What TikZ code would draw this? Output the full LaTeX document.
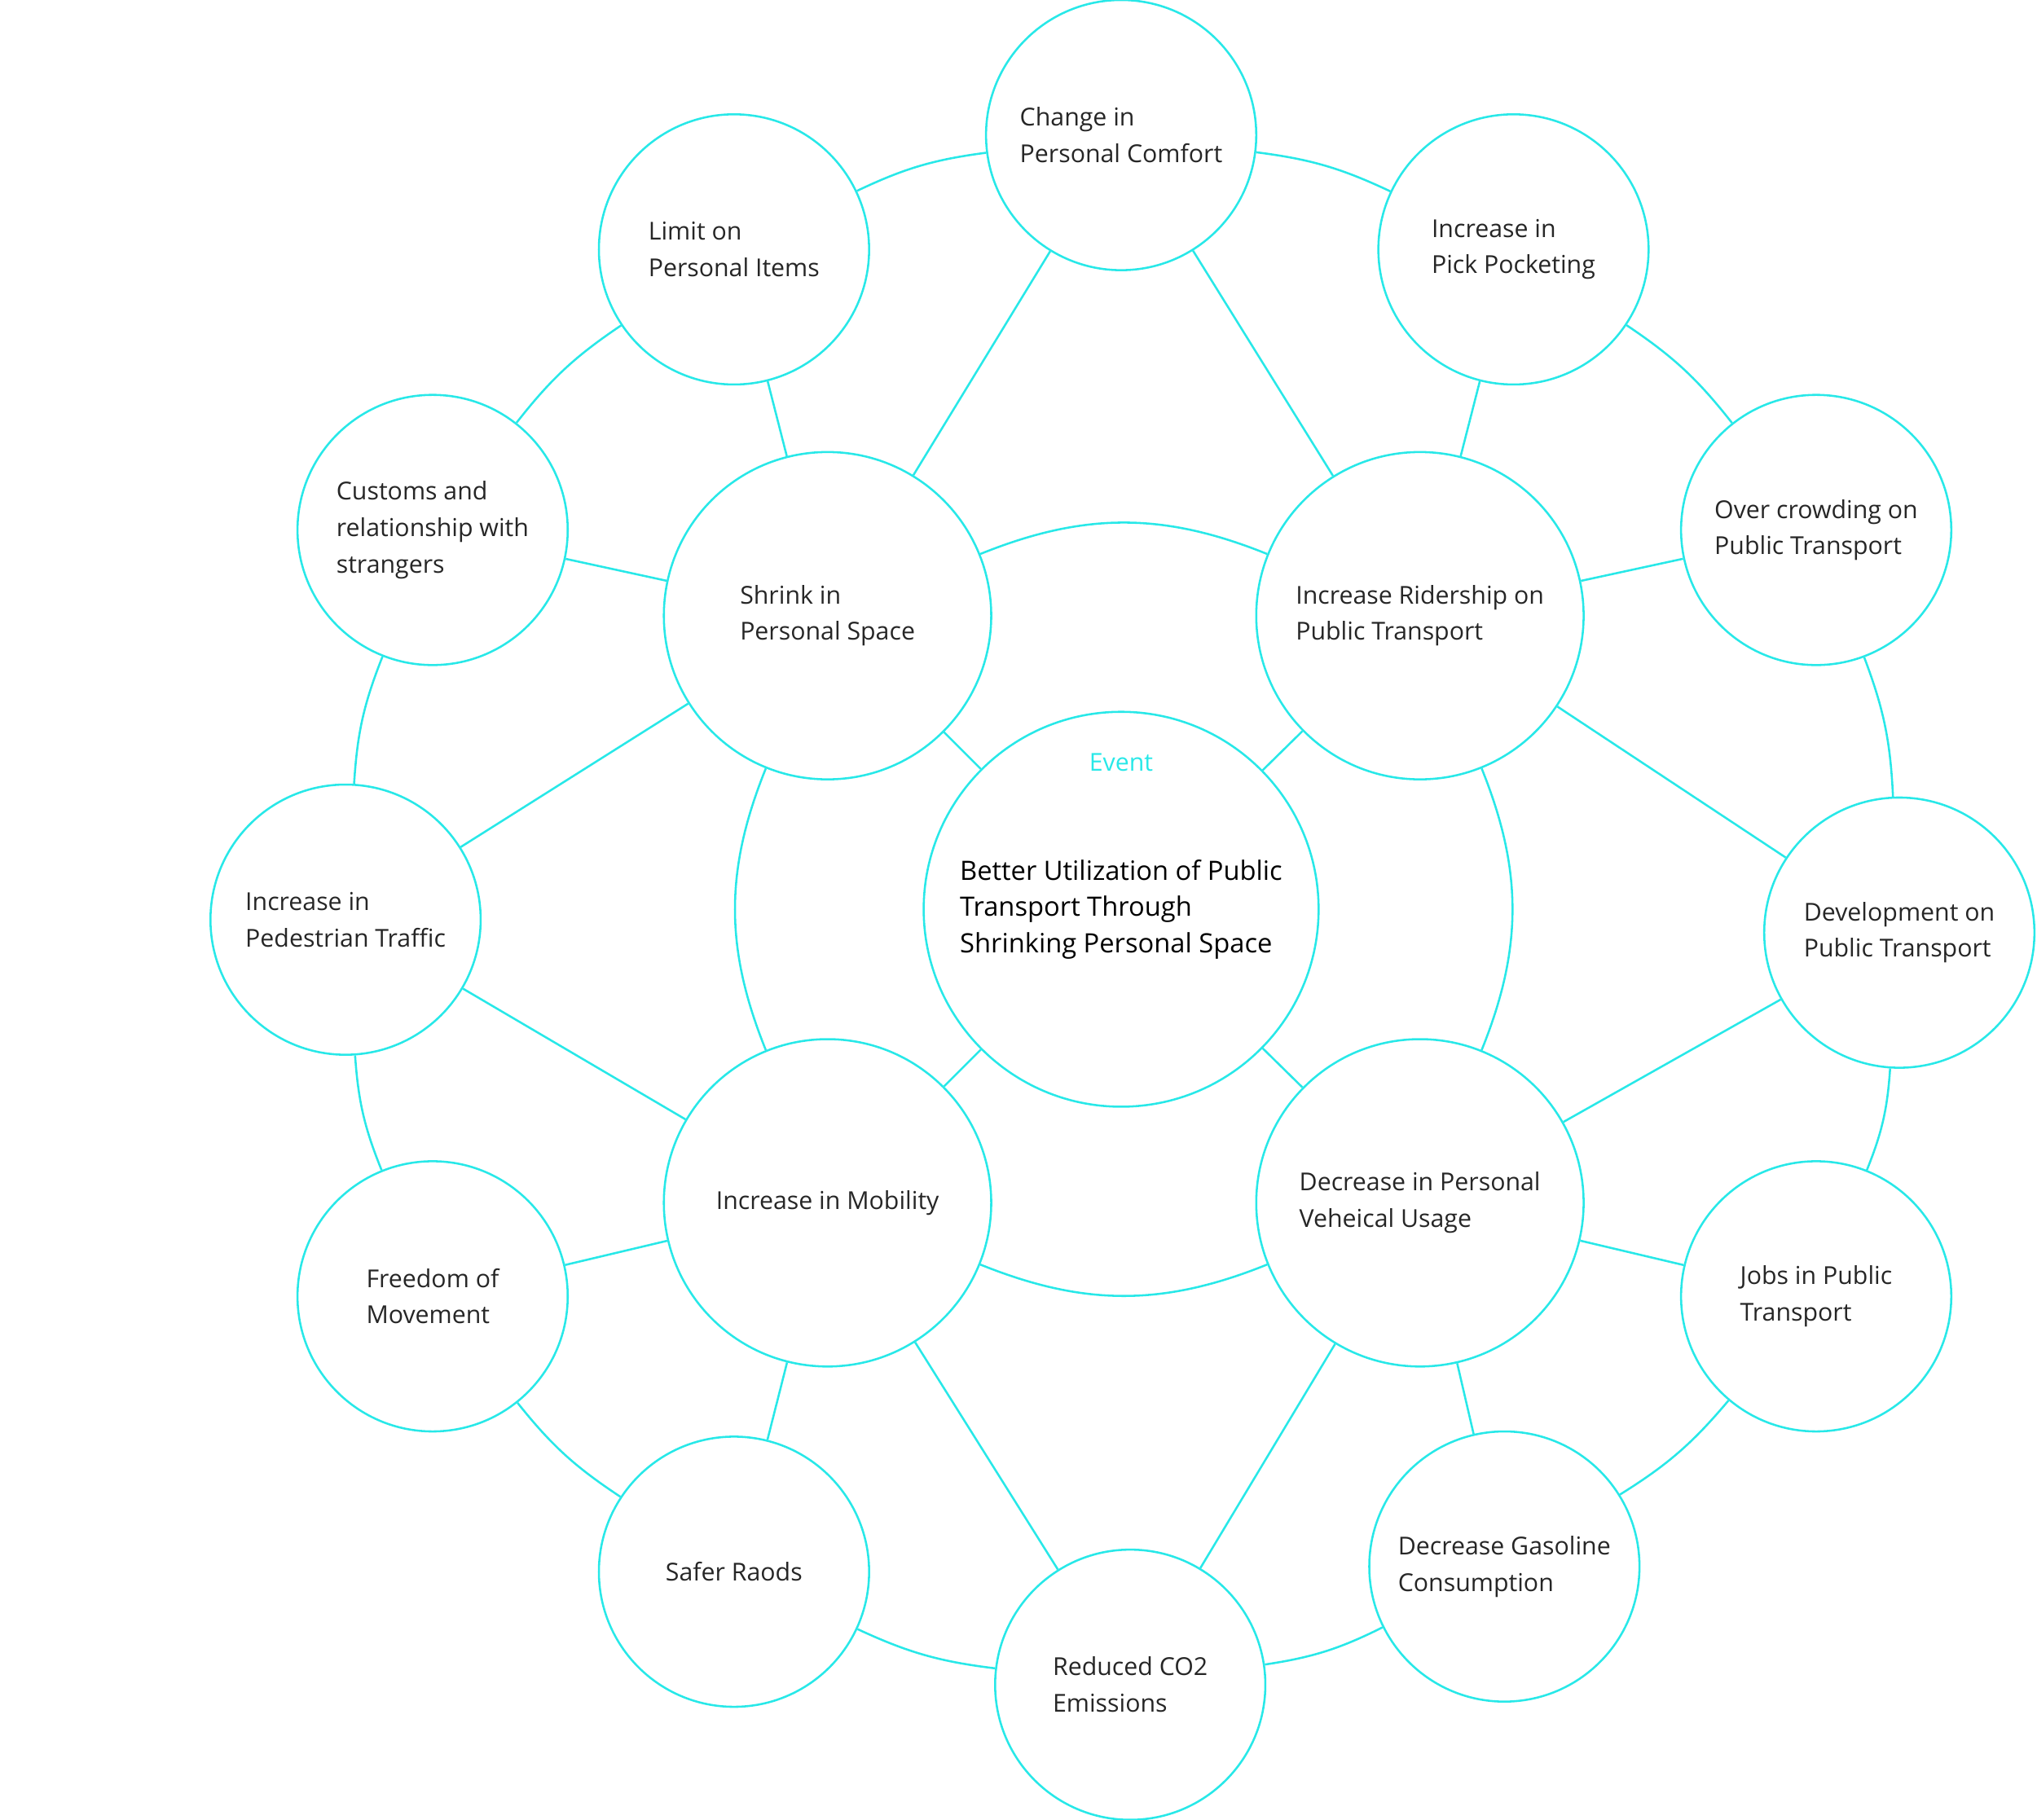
\documentclass[tikz,border=0pt]{standalone}
\usepackage{fontspec}
\setmainfont{Open Sans}
\definecolor{ring}{RGB}{40,232,232}
\begin{document}
\begin{tikzpicture}[
              x=1pt,y=-1pt,
              idea/.style={circle,draw=ring,line width=1.6pt,align=left,inner sep=0pt,font=\fontsize{19}{28}\selectfont,text=black!85},
              big/.style={idea,minimum size=252pt},
              small/.style={idea,minimum size=208pt},
              link/.style={draw=ring,line width=1.6pt}
            ]
            \useasboundingbox (0,0) rectangle (1568,1401);
            % Centre
            \node[idea,minimum size=304pt,font=\fontsize{20.5}{28}\selectfont,text=black] (event) at (863,700) {Better Utilization of Public\\Transport Through\\Shrinking Personal Space};
            \node[text=ring,font=\fontsize{19}{24}\selectfont] (eventlabel) at (863,587) {Event};

            % Inner ring
            \node[big] (shrink) at (637,474) {Shrink in\\Personal Space};
            \node[big] (ridership) at (1093,474) {Increase Ridership on\\Public Transport};
            \node[big] (mobility) at (637,926) {Increase in Mobility};
            \node[big] (vehicle) at (1093,926) {Decrease in Personal\\Veheical Usage};

            % Outer ring
            \node[small] (comfort) at (863,104) {Change in\\Personal Comfort};
            \node[small] (pocket) at (1165,192) {Increase in\\Pick Pocketing};
            \node[small] (crowd) at (1398,408) {Over crowding on\\Public Transport};
            \node[small] (develop) at (1462,718) {Development on\\Public Transport};
            \node[small] (jobs) at (1398,998) {Jobs in Public\\Transport};
            \node[small] (gasoline) at (1158,1206) {Decrease Gasoline\\Consumption};
            \node[small] (co2) at (870,1297) {Reduced CO2\\Emissions};
            \node[small] (roads) at (565,1210) {Safer Raods};
            \node[small] (freedom) at (333,998) {Freedom of\\Movement};
            \node[small] (pedestrian) at (266,708) {Increase in\\Pedestrian Traffic};
            \node[small] (customs) at (333,408) {Customs and\\relationship with\\strangers};
            \node[small] (items) at (565,192) {Limit on\\Personal Items};

            % Spokes
            \foreach \a/\b in {event/shrink,event/ridership,event/mobility,event/vehicle,
                               comfort/shrink,comfort/ridership,items/shrink,customs/shrink,pedestrian/shrink,
                               pocket/ridership,crowd/ridership,develop/ridership,
                               pedestrian/mobility,freedom/mobility,roads/mobility,co2/mobility,
                               co2/vehicle,gasoline/vehicle,jobs/vehicle,develop/vehicle}
              \draw[link] (\a) -- (\b);

            % Inner arcs
            \draw[link] (shrink) to[bend left=22] (ridership);
            \draw[link] (ridership) to[bend left=22] (vehicle);
            \draw[link] (vehicle) to[bend left=22] (mobility);
            \draw[link] (mobility) to[bend left=22] (shrink);

            % Outer arcs
            \foreach \a/\b in {comfort/pocket,pocket/crowd,crowd/develop,develop/jobs,jobs/gasoline,
                               gasoline/co2,co2/roads,roads/freedom,freedom/pedestrian,
                               pedestrian/customs,customs/items,items/comfort}
              \draw[link] (\a) to[bend left=9] (\b);
\end{tikzpicture}
\end{document}
